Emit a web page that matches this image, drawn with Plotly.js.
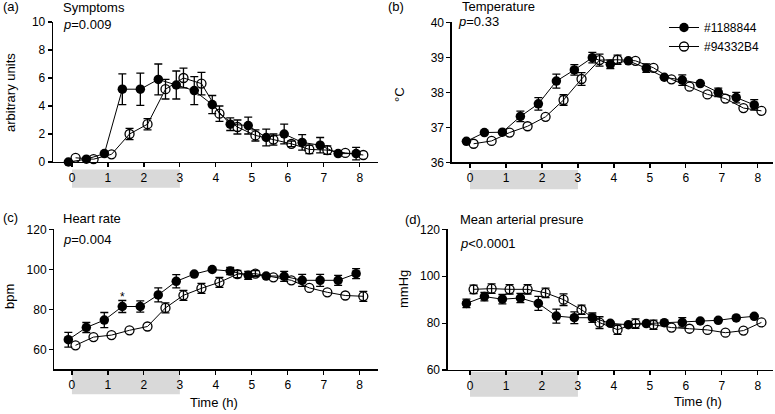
<!DOCTYPE html>
<html>
<head>
<meta charset="utf-8">
<script src="https://cdn.plot.ly/plotly-3.0.1.min.js"></script>
<style>html,body{margin:0;padding:0;background:#fff}#chart{width:775px;height:414px}</style>
</head>
<body>
<div id="chart"></div>
<script>
// ---- data ----
var timeFilled = [-0.1,0.4,0.9,1.4,1.9,2.4,2.9,3.4,3.9,4.4,4.9,5.4,5.9,6.4,6.9,7.4,7.9];
var timeOpen   = [0.1,0.6,1.1,1.6,2.1,2.6,3.1,3.6,4.1,4.6,5.1,5.6,6.1,6.6,7.1,7.6,8.1];
var xTicks = [0,1,2,3,4,5,6,7,8];
var seriesNames = ['#1188844', '#94332B4'];

var symptomsFilled    = [0,0.2,0.6,5.2,5.2,5.9,5.5,5.1,4.1,2.7,2.6,1.75,2.0,1.4,1.2,0.6,0.6];
var symptomsFilledErr = [NaN,NaN,NaN,1.1,1.15,1.1,1.0,1.0,0.65,0.45,0.6,0.6,0.7,0.55,0.55,NaN,0.45];
var symptomsOpen      = [0.3,0.2,0.55,2.0,2.7,5.2,6.0,5.6,3.45,2.5,1.9,1.6,1.3,0.9,0.85,0.65,0.5];
var symptomsOpenErr   = [NaN,NaN,NaN,0.4,0.4,0.7,0.7,0.8,0.55,0.5,0.4,0.4,0.2,0.3,0.3,NaN,NaN];

var tempFilled    = [36.6,36.85,36.86,37.31,37.67,38.32,38.64,38.99,38.8,38.9,38.69,38.43,38.35,38.25,38.0,37.85,37.64];
var tempFilledErr = [NaN,NaN,NaN,0.15,0.18,0.2,0.15,0.15,0.12,NaN,0.12,NaN,0.15,NaN,0.12,0.15,0.15];
var tempOpen      = [36.53,36.61,36.85,37.03,37.3,37.78,38.38,38.92,38.93,38.9,38.7,38.37,38.16,37.94,37.82,37.55,37.47];
var tempOpenErr   = [NaN,NaN,NaN,NaN,NaN,0.15,0.18,0.17,0.13,NaN,NaN,NaN,NaN,NaN,NaN,NaN,NaN];

var hrFilled    = [64.8,70.9,74.6,81.4,81.4,87.2,94,97.6,99.9,99.1,97,96.6,96.5,94.5,94.5,94.5,97.8];
var hrFilledErr = [3.7,2.5,3.8,3,2.8,3.5,3.3,NaN,NaN,1.8,2,NaN,2.5,3,3,2.5,2.5];
var hrOpen      = [62,66.1,67.1,69.5,71.4,80.7,87,90.5,93.5,97.6,97.8,96,94.5,90.7,88.5,86.9,86.5];
var hrOpenErr   = [NaN,NaN,NaN,NaN,NaN,2.5,2.5,2.5,2.5,1.8,1.5,NaN,NaN,NaN,NaN,NaN,2.5];

var mapFilled    = [88.4,91.3,90.2,90.7,88.4,83,82.3,82.3,79.9,79.3,79.8,80.2,80.3,80.9,81.2,82.2,82.9];
var mapFilledErr = [1.8,1.8,2,2,3,3,2.5,2,NaN,NaN,NaN,NaN,2,NaN,NaN,NaN,NaN];
var mapOpen      = [94.4,94.7,94.4,94.4,92.9,90,85.7,80.2,77.2,79.8,79.3,78.1,77.6,77.1,75.9,76.8,80.3];
var mapOpenErr   = [1.8,2,2,2,2,2.5,2,2.5,2,2,2,NaN,NaN,NaN,NaN,NaN,NaN];

var infusionStart = 0, infusionEnd = 3;

// ---- helpers ----
var W = 775, H = 414;
var FONT = 'Liberation Sans, Arial, Helvetica, sans-serif';
function px(x){ return x / W; }
function py(y){ return 1 - y / H; }

function mkTrace(xa, ya, x, y, err, open, name, showLegend){
  return {
    type: 'scatter', mode: 'lines+markers', x: x, y: y,
    xaxis: xa, yaxis: ya, name: name, showlegend: showLegend,
    legendrank: open ? 2 : 1, cliponaxis: false,
    line: {color: '#000', width: 1},
    marker: open
      ? {symbol: 'circle-open', size: 9, color: '#000', line: {width: 1.3, color: '#000'}}
      : {symbol: 'circle', size: 9.5, color: '#000'},
    error_y: {type: 'data', array: err, visible: true, color: '#000', thickness: 1.3, width: 4}
  };
}

var panels = [
  {xa:'x',  ya:'y',  f:symptomsFilled, fe:symptomsFilledErr, o:symptomsOpen, oe:symptomsOpenErr, leg:false},
  {xa:'x2', ya:'y2', f:tempFilled, fe:tempFilledErr, o:tempOpen, oe:tempOpenErr, leg:true},
  {xa:'x3', ya:'y3', f:hrFilled, fe:hrFilledErr, o:hrOpen, oe:hrOpenErr, leg:false},
  {xa:'x4', ya:'y4', f:mapFilled, fe:mapFilledErr, o:mapOpen, oe:mapOpenErr, leg:false}
];
var data = [];
panels.forEach(function(p){
  data.push(mkTrace(p.xa, p.ya, timeOpen, p.o, p.oe, true, seriesNames[1], p.leg));
  data.push(mkTrace(p.xa, p.ya, timeFilled, p.f, p.fe, false, seriesNames[0], p.leg));
});

function xAxis(dom, rng, anchor){
  return {domain: dom, range: rng, anchor: anchor, tickvals: xTicks, ticktext: xTicks.map(String),
    showline: true, linecolor: '#000', linewidth: 1.3, ticks: 'outside', ticklen: 4, tickwidth: 1.2,
    tickcolor: '#000', showgrid: false, zeroline: false, ticklabelstandoff: 0,
    tickfont: {family: FONT, size: 12, color: '#000'}, fixedrange: true};
}
function yAxis(dom, rng, dtick, anchor){
  return {domain: dom, range: rng, anchor: anchor, dtick: dtick, tick0: 0,
    showline: true, linecolor: '#000', linewidth: 1.3, ticks: 'outside', ticklen: 4, tickwidth: 1.2,
    tickcolor: '#000', showgrid: false, zeroline: false,
    tickfont: {family: FONT, size: 12, color: '#000'}, fixedrange: true};
}

function txt(text, x, y, opts){
  opts = opts || {};
  return Object.assign({text: text, x: px(x), y: py(y), xref: 'paper', yref: 'paper',
    xanchor: 'left', yanchor: 'middle', showarrow: false,
    font: {family: FONT, size: 13, color: '#000'}}, opts);
}
function ytitle(text, x, y){
  return txt(text, x, y, {xanchor: 'center', textangle: -90});
}

var annotations = [
  txt('(a)', 1, 7), txt('Symptoms', 61, 8), txt('<i>p</i>=0.009', 61, 24),
  txt('(b)', 386, 7), txt('Temperature', 460, 7), txt('<i>p</i>=0.33', 456, 21),
  txt('(c)', 1, 217), txt('Heart rate', 61, 218), txt('<i>p</i>=0.004', 61, 239),
  txt('(d)', 403, 219), txt('Mean arterial presure', 458, 219.5), txt('<i>p</i><0.0001', 458, 243),
  ytitle('arbitrary units', 10, 93),
  ytitle('°C', 399, 95),
  ytitle('bpm', 9, 297),
  ytitle('mmHg', 403, 289),
  txt('Time (h)', 214, 402, {xanchor: 'center'}),
  txt('Time (h)', 698, 401, {xanchor: 'center'}),
  {text: '*', x: 1.4, y: 86.3, xref: 'x3', yref: 'y3', showarrow: false,
   xanchor: 'center', yanchor: 'middle', font: {family: FONT, size: 12, color: '#000'}}
];

function band(xref, y0px, y1px){
  return {type: 'rect', xref: xref, yref: 'paper', x0: infusionStart, x1: infusionEnd,
    y0: py(y1px), y1: py(y0px), fillcolor: '#d9d9d9', line: {width: 0}, layer: 'below'};
}

var layout = {
  width: W, height: H, margin: {l: 0, r: 0, t: 0, b: 0},
  paper_bgcolor: '#fff', plot_bgcolor: 'rgba(0,0,0,0)',
  font: {family: FONT, size: 12, color: '#000'},
  xaxis:  xAxis([px(53), px(377.7)], [-0.528, 8.5], 'y'),
  yaxis:  yAxis([py(162), py(22)], [0, 10], 2, 'x'),
  xaxis2: xAxis([px(451.7), px(773.3)], [-0.509, 8.43], 'y2'),
  yaxis2: yAxis([py(162.3), py(22.3)], [36, 40], 1, 'x2'),
  xaxis3: xAxis([px(54.3), px(377.7)], [-0.49, 8.5], 'y3'),
  yaxis3: yAxis([py(369.3), py(229.3)], [50, 120], 20, 'x3'),
  xaxis4: xAxis([px(447.7), px(773.3)], [-0.62, 8.43], 'y4'),
  yaxis4: yAxis([py(370), py(229.3)], [60, 120], 20, 'x4'),
  showlegend: true,
  legend: {x: px(664), y: py(13), xanchor: 'left', yanchor: 'top', bgcolor: 'rgba(0,0,0,0)',
    font: {family: FONT, size: 12, color: '#000'}, itemwidth: 30, tracegroupgap: 0},
  shapes: [
    band('x', 169.5, 187.7), band('x2', 170, 189.3),
    band('x3', 370, 394.3), band('x4', 371.7, 396.7)
  ],
  annotations: annotations
};
layout.yaxis3.tick0 = 60;

Plotly.newPlot('chart', data, layout, {staticPlot: true, displayModeBar: false});
</script>
</body>
</html>
